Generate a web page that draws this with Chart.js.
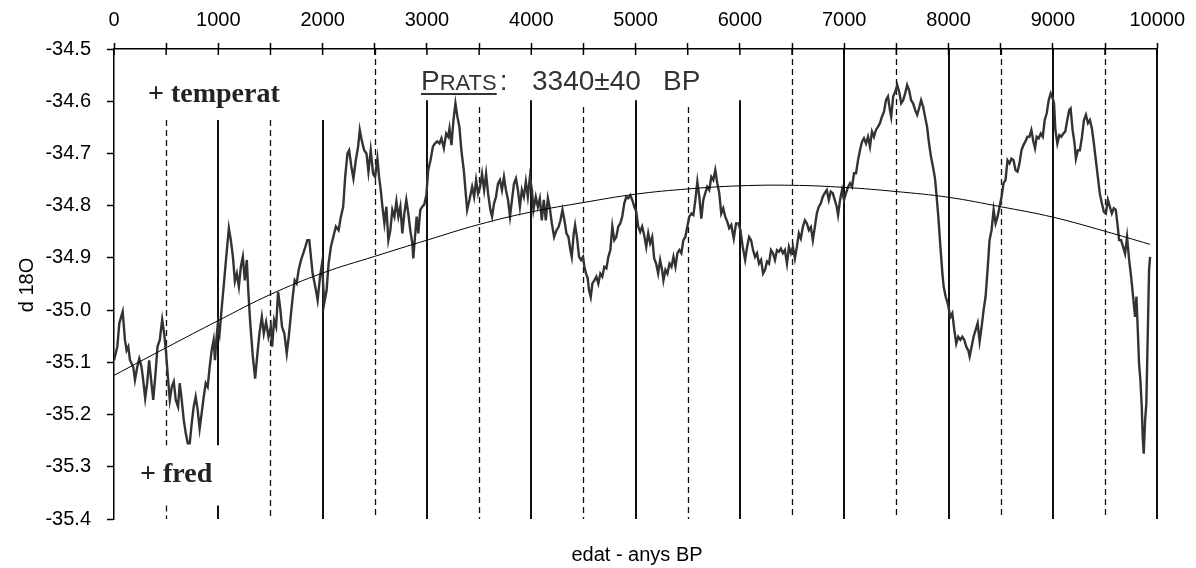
<!DOCTYPE html>
<html>
<head>
<meta charset="utf-8">
<script src="https://cdn.jsdelivr.net/npm/chart.js@4.4.1/dist/chart.umd.min.js"></script>
<style>
html,body{margin:0;padding:0;background:#fff;}
#wrap{width:1196px;height:568px;}
</style>
</head>
<body>
<div id="wrap"><canvas id="c" width="1196" height="568"></canvas></div>
<script>
// ---- data ----
const years = [0,32,51,83,105,121,137,153,185,201,223,242,264,280,299,318,337,356,376,398,417,439,462,481,497,519,535,554,573,592,614,630,646,669,688,707,726,745,764,783,802,821,840,860,879,898,917,936,955,968,981,996,1012,1028,1051,1076,1101,1120,1140,1159,1178,1197,1216,1235,1254,1273,1287,1306,1331,1353,1372,1394,1417,1436,1458,1481,1503,1516,1535,1554,1573,1592,1611,1633,1656,1675,1697,1713,1732,1751,1770,1793,1815,1834,1853,1872,1904,1936,1952,1975,1994,2015,2038,2057,2079,2102,2127,2153,2175,2197,2216,2238,2254,2276,2295,2318,2340,2356,2375,2398,2420,2439,2461,2484,2503,2525,2541,2557,2573,2592,2611,2630,2649,2668,2688,2707,2726,2745,2764,2783,2802,2821,2840,2860,2869,2885,2901,2917,2936,2955,2974,2994,3012,3034,3057,3076,3098,3120,3139,3162,3184,3203,3216,3235,3254,3273,3292,3311,3330,3353,3369,3385,3407,3433,3452,3471,3490,3509,3528,3548,3567,3586,3608,3624,3643,3662,3681,3700,3719,3738,3757,3777,3796,3815,3834,3853,3872,3891,3910,3929,3948,3967,3987,4006,4021,4043,4063,4082,4101,4120,4139,4159,4178,4197,4219,4242,4261,4280,4299,4318,4337,4356,4375,4388,4407,4420,4439,4458,4477,4496,4509,4525,4541,4554,4570,4586,4605,4624,4643,4662,4681,4700,4720,4739,4758,4777,4796,4815,4834,4853,4872,4891,4911,4930,4949,4968,4987,5006,5025,5044,5063,5082,5102,5121,5140,5159,5178,5197,5216,5235,5254,5267,5286,5305,5325,5344,5363,5382,5401,5420,5439,5458,5477,5496,5515,5535,5554,5573,5592,5611,5630,5649,5668,5687,5706,5726,5745,5764,5783,5802,5821,5840,5859,5878,5897,5917,5941,5963,5986,6005,6027,6050,6069,6088,6107,6126,6145,6164,6183,6203,6222,6241,6260,6279,6298,6317,6336,6355,6374,6393,6412,6431,6451,6470,6489,6508,6527,6546,6565,6584,6603,6623,6642,6661,6680,6699,6718,6737,6756,6775,6794,6813,6833,6852,6871,6890,6909,6928,6941,6960,6979,6998,7017,7037,7056,7075,7094,7113,7132,7151,7170,7189,7209,7228,7247,7266,7285,7304,7323,7342,7361,7381,7400,7419,7438,7450,7469,7489,7508,7527,7546,7565,7584,7603,7622,7641,7660,7680,7699,7718,7737,7756,7775,7794,7813,7832,7851,7870,7883,7902,7922,7941,7953,7972,7992,8017,8036,8055,8074,8093,8113,8132,8151,8170,8189,8202,8221,8240,8260,8279,8298,8317,8336,8355,8374,8393,8412,8432,8451,8470,8489,8508,8527,8546,8565,8584,8603,8623,8642,8661,8680,8699,8718,8737,8756,8775,8794,8813,8829,8845,8864,8884,8903,8922,8941,8960,8979,8998,9011,9024,9043,9062,9081,9100,9119,9138,9157,9170,9189,9208,9221,9240,9259,9279,9298,9317,9336,9355,9374,9393,9412,9431,9450,9470,9489,9508,9527,9546,9565,9584,9603,9622,9635,9654,9673,9692,9711,9731,9750,9769,9788,9801,9814,9826,9839,9852,9861,9871,9884,9896,9909,9922,9932];
const d18o = [-35.096,-35.070,-35.025,-35.003,-35.057,-35.077,-35.070,-35.096,-35.109,-35.134,-35.109,-35.093,-35.109,-35.134,-35.169,-35.140,-35.096,-35.134,-35.172,-35.121,-35.070,-35.057,-35.018,-35.045,-35.077,-35.134,-35.172,-35.147,-35.137,-35.172,-35.185,-35.140,-35.166,-35.211,-35.236,-35.255,-35.255,-35.217,-35.185,-35.166,-35.191,-35.227,-35.198,-35.166,-35.140,-35.147,-35.109,-35.077,-35.057,-35.096,-35.057,-35.025,-35.045,-35.006,-34.955,-34.898,-34.843,-34.866,-34.898,-34.945,-34.930,-34.955,-34.917,-34.898,-34.943,-34.904,-34.962,-35.025,-35.089,-35.131,-35.089,-35.045,-35.013,-35.045,-35.023,-35.051,-35.032,-35.070,-35.019,-35.032,-34.965,-34.994,-35.032,-35.045,-35.083,-35.051,-35.006,-34.975,-34.943,-34.949,-34.923,-34.904,-34.891,-34.879,-34.866,-34.866,-34.930,-34.962,-34.981,-34.936,-34.911,-34.987,-34.962,-34.911,-34.879,-34.860,-34.840,-34.847,-34.821,-34.802,-34.745,-34.700,-34.694,-34.726,-34.748,-34.713,-34.687,-34.655,-34.675,-34.694,-34.700,-34.735,-34.694,-34.739,-34.745,-34.710,-34.745,-34.770,-34.802,-34.834,-34.802,-34.866,-34.847,-34.808,-34.821,-34.792,-34.821,-34.802,-34.853,-34.815,-34.789,-34.815,-34.847,-34.872,-34.901,-34.860,-34.821,-34.853,-34.808,-34.802,-34.798,-34.780,-34.732,-34.713,-34.687,-34.681,-34.677,-34.681,-34.671,-34.690,-34.662,-34.668,-34.652,-34.684,-34.636,-34.604,-34.630,-34.649,-34.694,-34.732,-34.770,-34.808,-34.789,-34.764,-34.783,-34.751,-34.777,-34.764,-34.739,-34.770,-34.739,-34.777,-34.808,-34.821,-34.796,-34.783,-34.758,-34.751,-34.770,-34.745,-34.770,-34.789,-34.821,-34.789,-34.758,-34.748,-34.770,-34.802,-34.770,-34.783,-34.754,-34.783,-34.745,-34.770,-34.808,-34.783,-34.802,-34.786,-34.828,-34.789,-34.828,-34.786,-34.805,-34.834,-34.860,-34.847,-34.841,-34.828,-34.808,-34.828,-34.853,-34.860,-34.885,-34.898,-34.853,-34.837,-34.862,-34.898,-34.904,-34.898,-34.917,-34.930,-34.939,-34.962,-34.975,-34.949,-34.943,-34.936,-34.949,-34.930,-34.936,-34.917,-34.920,-34.898,-34.885,-34.840,-34.866,-34.860,-34.840,-34.834,-34.821,-34.796,-34.783,-34.786,-34.780,-34.789,-34.802,-34.811,-34.840,-34.850,-34.840,-34.856,-34.879,-34.853,-34.872,-34.860,-34.901,-34.911,-34.930,-34.904,-34.923,-34.943,-34.923,-34.930,-34.911,-34.917,-34.898,-34.917,-34.891,-34.885,-34.891,-34.866,-34.860,-34.840,-34.821,-34.815,-34.818,-34.789,-34.754,-34.783,-34.825,-34.789,-34.776,-34.764,-34.770,-34.745,-34.751,-34.732,-34.757,-34.776,-34.815,-34.805,-34.821,-34.830,-34.843,-34.837,-34.863,-34.834,-34.834,-34.847,-34.879,-34.904,-34.879,-34.860,-34.866,-34.885,-34.898,-34.891,-34.911,-34.904,-34.930,-34.923,-34.907,-34.911,-34.885,-34.891,-34.904,-34.885,-34.888,-34.882,-34.891,-34.885,-34.911,-34.879,-34.891,-34.879,-34.901,-34.879,-34.853,-34.863,-34.841,-34.828,-34.834,-34.847,-34.841,-34.866,-34.841,-34.815,-34.802,-34.796,-34.783,-34.776,-34.770,-34.789,-34.773,-34.776,-34.789,-34.802,-34.818,-34.789,-34.770,-34.789,-34.776,-34.764,-34.757,-34.764,-34.738,-34.738,-34.713,-34.694,-34.678,-34.671,-34.681,-34.668,-34.687,-34.658,-34.668,-34.655,-34.649,-34.642,-34.630,-34.620,-34.598,-34.591,-34.617,-34.630,-34.591,-34.582,-34.569,-34.582,-34.604,-34.598,-34.585,-34.569,-34.579,-34.598,-34.604,-34.617,-34.626,-34.613,-34.598,-34.610,-34.630,-34.649,-34.681,-34.707,-34.726,-34.748,-34.776,-34.821,-34.879,-34.930,-34.955,-34.974,-34.987,-35.013,-35.006,-35.038,-35.064,-35.051,-35.057,-35.051,-35.057,-35.070,-35.077,-35.089,-35.070,-35.051,-35.038,-35.025,-35.060,-35.032,-35.000,-34.974,-34.923,-34.866,-34.847,-34.808,-34.834,-34.821,-34.802,-34.783,-34.757,-34.751,-34.713,-34.719,-34.710,-34.713,-34.732,-34.735,-34.719,-34.694,-34.684,-34.677,-34.668,-34.668,-34.655,-34.677,-34.690,-34.668,-34.671,-34.662,-34.668,-34.636,-34.623,-34.598,-34.585,-34.594,-34.604,-34.655,-34.681,-34.665,-34.668,-34.662,-34.658,-34.636,-34.617,-34.614,-34.655,-34.681,-34.710,-34.694,-34.694,-34.668,-34.636,-34.626,-34.642,-34.636,-34.652,-34.681,-34.713,-34.745,-34.777,-34.796,-34.812,-34.815,-34.789,-34.802,-34.815,-34.805,-34.808,-34.840,-34.866,-34.866,-34.879,-34.892,-34.860,-34.904,-34.936,-34.974,-35.013,-34.974,-35.038,-35.102,-35.134,-35.185,-35.243,-35.275,-35.211,-35.179,-35.051,-34.923,-34.898];
const trendYears = [0,500,1000,1500,2000,2500,3000,3500,4000,4500,5000,5500,6000,6500,7000,7500,8000,8500,9000,9500,9930];
const trendValues = [-35.125,-35.072,-35.020,-34.970,-34.929,-34.897,-34.866,-34.836,-34.812,-34.794,-34.778,-34.768,-34.762,-34.761,-34.765,-34.773,-34.784,-34.802,-34.822,-34.849,-34.874];
const xTickMarks = [0,500,1000,1500,2000,2500,3000,3500,4000,4500,5000,5500,6000,6500,7000,7500,8000,8500,9000,9500,10000];
const xTickLabels = [0,1000,2000,3000,4000,5000,6000,7000,8000,9000,10000];
const yTickValues = [-35.4,-35.3,-35.2,-35.1,-35.0,-34.9,-34.8,-34.7,-34.6,-34.5];
const solidYears = [1000,2000,3000,4000,5000,6000,7000,8000,9000,10000];
const dashedYears = [500,1500,2500,3500,4500,5500,6500,7500,8500,9500];

const SANS = '"Liberation Sans", Arial, sans-serif';
const SERIF = '"Liberation Serif", "Times New Roman", serif';
Chart.defaults.font.family = SANS;
Chart.defaults.font.size = 20;
Chart.defaults.color = '#000';

// line extents (value units) for the reference verticals
const lineTop = {500:-34.636,1000:-34.636,1500:-34.636,2000:-34.636,2500:-34.5,3000:-34.598,3500:-34.611,4000:-34.598,4500:-34.611,5000:-34.598,5500:-34.611,6000:-34.598};
const lineGap = {500:[-35.259,-35.374],1000:[-35.259,-35.374]};

const refLinesPlugin = {
  id: 'refLines',
  beforeDatasetsDraw(chart) {
    const ctx = chart.ctx, xs = chart.scales.x, ys = chart.scales.y;
    const yBot = ys.getPixelForValue(-35.4);
    const drawV = (yr, dashed) => {
      const x = Math.round(xs.getPixelForValue(yr)) + (dashed ? 0.5 : 0);
      const top = ys.getPixelForValue(lineTop[yr] !== undefined ? lineTop[yr] : -34.5);
      const segs = [];
      if (lineGap[yr]) {
        segs.push([top, ys.getPixelForValue(lineGap[yr][0])]);
        segs.push([ys.getPixelForValue(lineGap[yr][1]), yBot]);
      } else segs.push([top, yBot]);
      ctx.save();
      ctx.strokeStyle = '#111';
      ctx.lineWidth = dashed ? 1.3 : 2;
      ctx.setLineDash(dashed ? [6, 4] : []);
      for (const s of segs) {
        ctx.beginPath(); ctx.moveTo(x, s[0]); ctx.lineTo(x, s[1]); ctx.stroke();
      }
      ctx.restore();
    };
    solidYears.forEach(y => drawV(y, false));
    dashedYears.forEach(y => drawV(y, true));
    // inner tick stubs of the top axis
    ctx.save();
    ctx.strokeStyle = '#000'; ctx.lineWidth = 1.5;
    const y0 = ys.getPixelForValue(-34.5);
    xTickMarks.forEach(v => {
      const x = xs.getPixelForValue(v);
      ctx.beginPath(); ctx.moveTo(x, y0); ctx.lineTo(x, y0 + 6); ctx.stroke();
    });
    ctx.restore();
  }
};

const textPlugin = {
  id: 'texts',
  afterDraw(chart) {
    const ctx = chart.ctx;
    ctx.save();
    // axis titles
    ctx.fillStyle = '#000';
    ctx.font = '20px ' + SANS;
    ctx.textAlign = 'center'; ctx.textBaseline = 'middle';
    ctx.fillText('edat - anys BP', 637, 555);
    ctx.save();
    ctx.translate(27, 285); ctx.rotate(-Math.PI / 2);
    ctx.fillText('d 18O', 0, 0);
    ctx.restore();
    // annotations
    ctx.textAlign = 'left'; ctx.textBaseline = 'alphabetic';
    ctx.fillStyle = '#222';
    ctx.font = 'bold 28px ' + SERIF;
    ctx.fillText('+ temperat', 148, 102);
    ctx.fillText('+ fred', 140, 482);
    // PRATS small caps
    ctx.fillStyle = '#333';
    let x = 421, base = 90;
    ctx.font = '28px ' + SANS;
    ctx.fillText('P', x, base); x += ctx.measureText('P').width;
    ctx.font = '22px ' + SANS;
    ctx.fillText('RATS', x, base); x += ctx.measureText('RATS').width;
    const ulEnd = x;
    ctx.font = '28px ' + SANS;
    ctx.fillText(':', x + 3, base);
    ctx.fillRect(421, base + 3, ulEnd - 421, 2);
    ctx.fillText('3340\u00B140', 532, base);
    ctx.fillText('BP', 663, base);
    ctx.restore();
  }
};

new Chart(document.getElementById('c'), {
  type: 'scatter',
  data: {
    datasets: [
      {
        label: 'trend',
        data: trendYears.map((x, i) => ({x, y: trendValues[i]})),
        showLine: true, borderColor: '#000', borderWidth: 1, pointRadius: 0,
        tension: 0.4, fill: false
      },
      {
        label: 'd18O',
        data: years.map((x, i) => ({x, y: d18o[i]})),
        showLine: true, borderColor: '#333', borderWidth: 2.4, pointRadius: 0,
        tension: 0, fill: false
      }
    ]
  },
  options: {
    responsive: false,
    devicePixelRatio: 1,
    animation: false,
    layout: { padding: { left: 0, right: 35, top: 0, bottom: 49 } },
    plugins: { legend: { display: false }, tooltip: { enabled: false } },
    scales: {
      x: {
        type: 'linear', position: 'top', min: 0, max: 10000,
        afterBuildTicks: s => { s.ticks = xTickMarks.map(v => ({ value: v })); },
        afterFit: s => { s.height = 49; },
        ticks: {
          autoSkip: false, maxRotation: 0, padding: 11,
          font: { size: 20, family: SANS }, color: '#000',
          callback: v => xTickLabels.includes(v) ? String(v) : ''
        },
        grid: { drawOnChartArea: false, drawTicks: true, tickLength: 6, tickColor: '#000', tickWidth: 1.5 },
        border: { display: true, color: '#000', width: 1.5 }
      },
      y: {
        type: 'linear', position: 'left', min: -35.4, max: -34.5,
        afterBuildTicks: s => { s.ticks = yTickValues.map(v => ({ value: v })); },
        afterFit: s => { s.width = 114; },
        ticks: {
          padding: 16, font: { size: 20, family: SANS }, color: '#000',
          callback: v => Number(v).toFixed(1)
        },
        grid: { drawOnChartArea: false, drawTicks: true, tickLength: 7, tickColor: '#000', tickWidth: 1.5 },
        border: { display: true, color: '#000', width: 1.5 }
      }
    }
  },
  plugins: [refLinesPlugin, textPlugin]
});
</script>
</body>
</html>
